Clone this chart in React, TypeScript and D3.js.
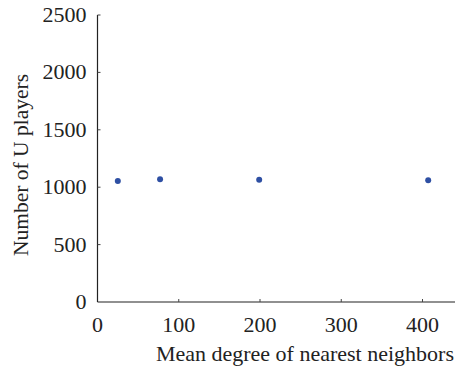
import React, { useEffect, useRef } from "react";
import * as d3 from "d3";

const degrees = [25, 77, 199, 407];
const uPlayers = [1055, 1070, 1065, 1060];
const xTicks = [0, 100, 200, 300, 400];
const yTicks = [0, 500, 1000, 1500, 2000, 2500];

const W = 455;
const H = 370;
const font = "Liberation Serif";

export default function App() {
    const ref = useRef<SVGSVGElement>(null);
    useEffect(() => {
        const svg = d3.select(ref.current);
        svg.selectAll("*").remove();
        const x = d3.scaleLinear().domain([0, 440]).range([97.5, 455]);
        const y = d3.scaleLinear().domain([0, 2500]).range([302, 15]);

        const g = svg.append("g");
        // axes lines
        g.append("line").attr("x1", x(0)).attr("x2", x(0)).attr("y1", y(2500)).attr("y2", y(0))
            .attr("stroke", "#222").attr("stroke-width", 1.2);
        g.append("line").attr("x1", x(0)).attr("x2", W).attr("y1", y(0)).attr("y2", y(0))
            .attr("stroke", "#222").attr("stroke-width", 1.2);

        // x ticks
        xTicks.forEach(t => {
            if (t > 0) g.append("line").attr("x1", x(t)).attr("x2", x(t)).attr("y1", y(0)).attr("y2", y(0) - 3)
                .attr("stroke", "#444").attr("stroke-width", 1);
            g.append("text").attr("x", x(t)).attr("y", y(0) + 29.5).attr("text-anchor", "middle")
                .attr("font-family", font).attr("font-size", 22).attr("fill", "#222").text(t);
        });
        // y ticks
        yTicks.forEach(t => {
            if (t > 0) g.append("line").attr("x1", x(0)).attr("x2", x(0) + 3).attr("y1", y(t)).attr("y2", y(t))
                .attr("stroke", "#444").attr("stroke-width", 1);
            g.append("text").attr("x", x(0) - 11).attr("y", y(t) + 7).attr("text-anchor", "end")
                .attr("font-family", font).attr("font-size", 22).attr("fill", "#222").text(t);
        });

        g.append("text").attr("x", 454).attr("y", 361).attr("text-anchor", "end")
            .attr("font-family", font).attr("font-size", 22).attr("fill", "#222")
            .text("Mean degree of nearest neighbors");
        g.append("text").attr("transform", `translate(28,165) rotate(-90)`)
            .attr("text-anchor", "middle")
            .attr("font-family", font).attr("font-size", 21.5).attr("fill", "#222")
            .text("Number of U players");

        g.selectAll("circle").data(degrees).enter().append("circle")
            .attr("cx", d => x(d))
            .attr("cy", (d, i) => y(uPlayers[i]))
            .attr("r", 3)
            .attr("fill", "#2e4fa3");
    }, []);
    return (
        <svg ref={ref} width={W} height={H} style={{ position: "absolute", left: 0, top: 0 }}></svg>
    );
}
